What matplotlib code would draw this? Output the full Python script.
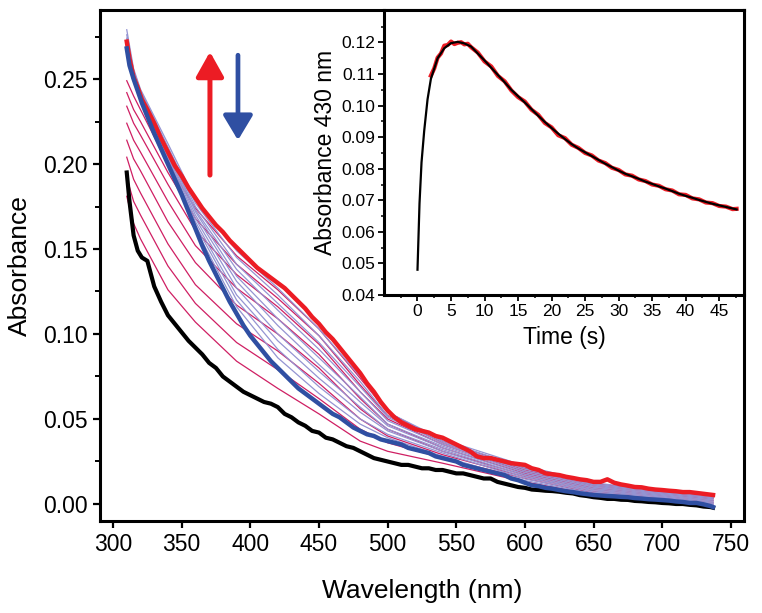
import matplotlib
matplotlib.use("Agg")
import matplotlib.pyplot as plt
from matplotlib.ticker import MultipleLocator, FixedLocator, FormatStrFormatter

plt.rcParams['font.family'] = ['Liberation Sans', 'DejaVu Sans']

# ---------------- data ----------------
wl_thick = [310, 312, 315, 318, 321, 325, 330, 335, 340, 345, 350, 355, 360, 365, 370, 375,
            380, 385, 390, 395, 400, 405, 410, 415, 420, 425, 430, 435, 440, 445, 450, 455,
            460, 465, 470, 475, 480, 485, 490, 495, 500, 505, 510, 515, 520, 525, 530, 535,
            540, 545, 550, 555, 560, 565, 570, 575, 580, 585, 590, 595, 600, 605, 610, 615,
            620, 625, 630, 635, 640, 645, 650, 655, 660, 665, 670, 675, 680, 685, 690, 695,
            700, 705, 710, 715, 720, 725, 730, 735, 737]
abs_initial = [0.195, 0.178, 0.158, 0.149, 0.145, 0.143, 0.128, 0.119, 0.111, 0.106, 0.101,
               0.096, 0.092, 0.088, 0.083, 0.080, 0.075, 0.072, 0.069, 0.066, 0.064, 0.062,
               0.060, 0.059, 0.057, 0.053, 0.051, 0.048, 0.046, 0.043, 0.042, 0.039, 0.038,
               0.036, 0.034, 0.033, 0.031, 0.029, 0.027, 0.026, 0.025, 0.024, 0.023, 0.023,
               0.022, 0.021, 0.021, 0.020, 0.020, 0.019, 0.018, 0.018, 0.017, 0.016, 0.015,
               0.015, 0.013, 0.012, 0.011, 0.010, 0.0095, 0.0085, 0.0082, 0.0078, 0.0076,
               0.0072, 0.0066, 0.0062, 0.0052, 0.0047, 0.0040, 0.0036, 0.0030, 0.0030, 0.0025,
               0.0024, 0.0018, 0.0016, 0.0012, 0.0010, 0.0006, 0.0004, 0.0000, 0.0000, -0.0005,
               -0.0008, -0.0015, -0.0018, -0.0022]
abs_max = [0.272, 0.262, 0.251, 0.245, 0.238, 0.232, 0.224, 0.215, 0.207, 0.199, 0.193,
           0.186, 0.180, 0.174, 0.169, 0.164, 0.160, 0.155, 0.151, 0.147, 0.143, 0.139,
           0.136, 0.133, 0.130, 0.127, 0.123, 0.119, 0.115, 0.110, 0.106, 0.101, 0.097,
           0.092, 0.087, 0.082, 0.077, 0.071, 0.066, 0.060, 0.055, 0.051, 0.048, 0.046,
           0.044, 0.043, 0.042, 0.040, 0.039, 0.037, 0.035, 0.033, 0.031, 0.028, 0.027,
           0.027, 0.026, 0.025, 0.024, 0.0235, 0.023, 0.021, 0.020, 0.018, 0.0175, 0.017,
           0.016, 0.0153, 0.0145, 0.014, 0.013, 0.013, 0.0145, 0.0125, 0.0115, 0.0108, 0.010,
           0.0098, 0.009, 0.0085, 0.0082, 0.0078, 0.0075, 0.007, 0.007, 0.0065, 0.006,
           0.0055, 0.0053]
abs_final = [0.268, 0.258, 0.250, 0.243, 0.236, 0.228, 0.218, 0.209, 0.200, 0.191, 0.182,
             0.172, 0.162, 0.152, 0.143, 0.135, 0.127, 0.119, 0.112, 0.105, 0.099, 0.094,
             0.089, 0.084, 0.080, 0.076, 0.072, 0.068, 0.065, 0.062, 0.059, 0.056, 0.053,
             0.051, 0.048, 0.045, 0.043, 0.041, 0.040, 0.038, 0.037, 0.036, 0.035, 0.033,
             0.032, 0.031, 0.030, 0.028, 0.027, 0.026, 0.025, 0.023, 0.022, 0.021, 0.020,
             0.019, 0.018, 0.017, 0.015, 0.014, 0.0125, 0.011, 0.0105, 0.0095, 0.009, 0.0082,
             0.0075, 0.007, 0.0063, 0.0058, 0.0053, 0.005, 0.0047, 0.0045, 0.0042, 0.004,
             0.0035, 0.0032, 0.0028, 0.0026, 0.0023, 0.002, 0.0015, 0.0012, 0.0006, 0.0006,
             -0.0002, -0.0012, -0.0018]

wl_thin = [310, 315, 320, 340, 360, 390, 420, 450, 480, 500, 540, 600, 650, 700, 737]
rise_scans = [
    [0.181, 0.165, 0.156, 0.126, 0.107, 0.084, 0.068, 0.053, 0.037, 0.031, 0.024, 0.013, 0.0055, 0.0025, -0.001],
    [0.192, 0.178, 0.170, 0.140, 0.118, 0.095, 0.079, 0.062, 0.044, 0.036, 0.027, 0.015, 0.0065, 0.0032, 0.000],
    [0.204, 0.191, 0.183, 0.153, 0.129, 0.106, 0.090, 0.071, 0.050, 0.040, 0.029, 0.016, 0.0075, 0.0040, 0.001],
    [0.214, 0.203, 0.196, 0.166, 0.142, 0.117, 0.100, 0.080, 0.056, 0.044, 0.031, 0.017, 0.0085, 0.0048, 0.002],
    [0.224, 0.214, 0.207, 0.178, 0.152, 0.127, 0.109, 0.088, 0.062, 0.047, 0.033, 0.018, 0.0095, 0.0055, 0.003],
    [0.234, 0.224, 0.217, 0.188, 0.161, 0.135, 0.116, 0.094, 0.066, 0.050, 0.035, 0.019, 0.0105, 0.0062, 0.0035],
    [0.242, 0.232, 0.225, 0.195, 0.168, 0.141, 0.121, 0.099, 0.070, 0.052, 0.036, 0.020, 0.0112, 0.0068, 0.004],
    [0.249, 0.240, 0.232, 0.200, 0.174, 0.146, 0.126, 0.103, 0.074, 0.054, 0.037, 0.021, 0.0120, 0.0074, 0.0045],
]
decay_scans = [
    [0.279, 0.256, 0.244, 0.212, 0.179, 0.149, 0.127, 0.103, 0.075, 0.054, 0.038, 0.0224, 0.0125, 0.0077, 0.0049],
    [0.276, 0.255, 0.243, 0.210, 0.177, 0.145, 0.123, 0.099, 0.072, 0.052, 0.037, 0.0214, 0.0118, 0.0071, 0.0042],
    [0.274, 0.254, 0.243, 0.209, 0.175, 0.141, 0.118, 0.095, 0.069, 0.051, 0.036, 0.0205, 0.0112, 0.0066, 0.0036],
    [0.273, 0.253, 0.242, 0.208, 0.173, 0.138, 0.114, 0.091, 0.066, 0.049, 0.035, 0.0195, 0.0105, 0.0061, 0.0030],
    [0.272, 0.253, 0.242, 0.207, 0.172, 0.134, 0.109, 0.086, 0.063, 0.047, 0.034, 0.0186, 0.0098, 0.0056, 0.0023],
    [0.271, 0.252, 0.241, 0.206, 0.170, 0.131, 0.105, 0.082, 0.060, 0.046, 0.033, 0.0176, 0.0091, 0.0051, 0.0017],
    [0.270, 0.252, 0.240, 0.205, 0.168, 0.127, 0.100, 0.078, 0.057, 0.044, 0.032, 0.0167, 0.0084, 0.0046, 0.0010],
    [0.270, 0.251, 0.240, 0.204, 0.166, 0.123, 0.096, 0.074, 0.054, 0.043, 0.031, 0.0158, 0.0077, 0.0041, 0.0004],
    [0.269, 0.251, 0.239, 0.203, 0.164, 0.120, 0.091, 0.069, 0.050, 0.041, 0.030, 0.0148, 0.0070, 0.0036, -0.0002],
    [0.269, 0.250, 0.239, 0.202, 0.162, 0.116, 0.086, 0.065, 0.047, 0.039, 0.028, 0.0138, 0.0062, 0.0030, -0.0009],
]

# inset kinetics at 430 nm
t_fit = [0, 0.3, 0.6, 1, 1.5, 2, 3, 4, 5, 6, 7, 8, 9, 10, 11, 12, 13, 14, 15, 16, 17, 18, 19,
         20, 21, 22, 23, 24, 25, 26, 27, 28, 29, 30, 31, 32, 33, 34, 35, 36, 37, 38, 39, 40,
         41, 42, 43, 44, 45, 46, 47, 47.6]
a_fit = [0.048, 0.069, 0.082, 0.092, 0.102, 0.1085, 0.115, 0.1182, 0.1198, 0.1202, 0.1197,
         0.1187, 0.1165, 0.1143, 0.1120, 0.1097, 0.1074, 0.1050, 0.1030, 0.1010, 0.0989,
         0.0968, 0.0948, 0.0929, 0.0911, 0.0894, 0.0878, 0.0864, 0.0852, 0.0840, 0.0828,
         0.0816, 0.0805, 0.0794, 0.0784, 0.0776, 0.0768, 0.0759, 0.0752, 0.0744, 0.0737,
         0.0729, 0.0721, 0.0714, 0.0708, 0.0701, 0.0695, 0.0689, 0.0684, 0.0679, 0.0674, 0.0671]
t_data = [2, 2.5, 3, 3.5, 4, 4.5, 5, 5.5, 6, 6.5, 7, 7.5, 8, 9, 10, 11, 12, 13, 14, 15, 16, 17,
          18, 19, 20, 21, 22, 23, 24, 25, 26, 27, 28, 29, 30, 31, 32, 33, 34, 35, 36, 37, 38,
          39, 40, 41, 42, 43, 44, 45, 46, 47, 47.6]
a_data = [0.1095, 0.1118, 0.1152, 0.1165, 0.1190, 0.1192, 0.1203, 0.1195, 0.1199, 0.1201,
          0.1194, 0.1196, 0.1185, 0.1168, 0.1140, 0.1124, 0.1094, 0.1077, 0.1048, 0.1027,
          0.1013, 0.0987, 0.0971, 0.0945, 0.0931, 0.0906, 0.0897, 0.0876, 0.0866, 0.0850,
          0.0842, 0.0826, 0.0818, 0.0803, 0.0796, 0.0782, 0.0778, 0.0766, 0.0761, 0.0750,
          0.0746, 0.0735, 0.0731, 0.0719, 0.0717, 0.0706, 0.0703, 0.0693, 0.0691, 0.0682,
          0.0680, 0.0672, 0.0673]

RED = '#ec1c24'
BLUE = '#2f4fa2'
CRIMSON = '#cf1f63'
LAV = '#9494d2'

fig = plt.figure(figsize=(7.62, 6.13), dpi=100)
ax = fig.add_axes([0.1312, 0.1501, 0.8451, 0.8336])

ax.plot(wl_thick, abs_initial, color='black', lw=3.0, zorder=3)
for s in rise_scans:
    ax.plot(wl_thin, s, color=CRIMSON, lw=0.9, zorder=2)
for s in decay_scans:
    ax.plot(wl_thin, s, color=LAV, lw=0.9, zorder=2.5)
ax.plot(wl_thick, abs_max, color=RED, lw=3.2, zorder=4)
ax.plot(wl_thick, abs_final, color=BLUE, lw=3.2, zorder=5)

ax.set_xlim(290.5, 759.5)
ax.set_ylim(-0.01, 0.2906)
ax.xaxis.set_major_locator(MultipleLocator(50))
ax.yaxis.set_major_locator(MultipleLocator(0.05))
ax.yaxis.set_minor_locator(MultipleLocator(0.025))
ax.yaxis.set_major_formatter(FormatStrFormatter('%.2f'))
for sp in ax.spines.values():
    sp.set_linewidth(2.2)
ax.tick_params(axis='both', which='major', direction='out', length=5, width=1.6,
               labelsize=16.5, pad=4)
ax.tick_params(axis='y', which='minor', direction='out', length=3.5, width=1.4)
ax.tick_params(top=False, right=False)
ax.set_xlabel('Wavelength (nm)', fontsize=19, labelpad=16)
ax.set_ylabel('Absorbance', fontsize=19, labelpad=8)

# arrows
ax.annotate('', xy=(370.6, 0.266), xytext=(370.6, 0.1935),
            arrowprops=dict(arrowstyle='-|>,head_length=0.75,head_width=0.42', lw=3.6,
                            color=RED, shrinkA=0, shrinkB=0, mutation_scale=20), zorder=6)
ax.annotate('', xy=(391, 0.214), xytext=(391, 0.264),
            arrowprops=dict(arrowstyle='-|>,head_length=0.75,head_width=0.45', lw=3.4,
                            color=BLUE, shrinkA=0, shrinkB=0, mutation_scale=20), zorder=6)

# inset
ins = fig.add_axes([0.5039, 0.5188, 0.4725, 0.4649])
ins.set_facecolor('white')
ins.plot(t_data, a_data, color=RED, lw=3.0, zorder=2)
ins.plot(t_fit, a_fit, color='black', lw=1.6, zorder=3)
ins.set_xlim(-5, 48.7)
ins.set_ylim(0.04, 0.1303)
ins.xaxis.set_major_locator(FixedLocator([0, 5, 10, 15, 20, 25, 30, 35, 40, 45]))
ins.xaxis.set_minor_locator(FixedLocator([-2.5, 2.5, 7.5, 12.5, 17.5, 22.5, 27.5, 32.5,
                                          37.5, 42.5, 47.5]))
ins.yaxis.set_major_locator(FixedLocator([0.04, 0.05, 0.06, 0.07, 0.08, 0.09, 0.10, 0.11, 0.12]))
ins.yaxis.set_minor_locator(FixedLocator([0.045, 0.055, 0.065, 0.075, 0.085, 0.095, 0.105,
                                          0.115, 0.125]))
ins.yaxis.set_major_formatter(FormatStrFormatter('%.2f'))
for sp in ins.spines.values():
    sp.set_linewidth(2.2)
ins.tick_params(axis='both', which='major', direction='out', length=4, width=1.3,
                labelsize=12.5, pad=2.5)
ins.tick_params(axis='both', which='minor', direction='out', length=2.5, width=1.1)
ins.set_xlabel('Time (s)', fontsize=16.5, labelpad=5)
ins.set_ylabel('Absorbance 430 nm', fontsize=16.5, labelpad=3)

fig.savefig('out.png', dpi=100)
